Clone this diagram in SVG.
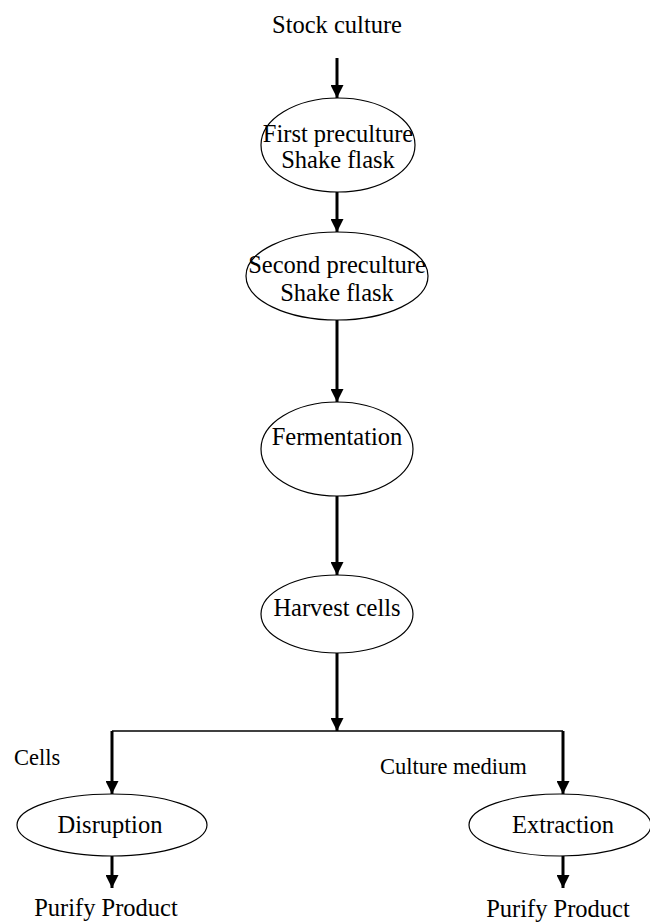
<svg xmlns="http://www.w3.org/2000/svg" width="650" height="922" viewBox="0 0 650 922">
<defs>
<marker id="ah" markerWidth="13" markerHeight="13" refX="13" refY="6.5" orient="auto" markerUnits="userSpaceOnUse">
<path d="M0,0 L13,6.5 L0,13 Z" fill="#000"/>
</marker>
<style>
.n{fill:#fff;stroke:#000;stroke-width:1.2}
.t{font-family:"Liberation Serif","Times New Roman",serif;font-size:24.5px;fill:#000;text-anchor:middle}
.l{font-family:"Liberation Serif","Times New Roman",serif;font-size:22.5px;fill:#000}
.a{stroke:#000;stroke-width:3;fill:none;marker-end:url(#ah)}
.h{stroke:#000;stroke-width:1.4;fill:none}
</style>
</defs>
<rect width="650" height="922" fill="#fff"/>
<g id="connectors">
<line class="a" x1="337" y1="58" x2="337" y2="98"/>
<line class="a" x1="337" y1="192" x2="337" y2="232"/>
<line class="a" x1="337" y1="320" x2="337" y2="402"/>
<line class="a" x1="337" y1="496" x2="337" y2="575"/>
<line class="a" x1="337" y1="653" x2="337" y2="731"/>
<line class="h" x1="112" y1="731" x2="563" y2="731"/>
<line class="a" x1="112" y1="731" x2="112" y2="794"/>
<line class="a" x1="563" y1="731" x2="563" y2="794"/>
<line class="a" x1="112" y1="856" x2="112" y2="888"/>
<line class="a" x1="563" y1="856" x2="563" y2="888"/>
</g>
<g id="stock"><text class="t" x="337" y="33">Stock culture</text></g>
<g id="first">
<ellipse class="n" cx="338" cy="145" rx="77" ry="47"/>
<text class="t" x="338" y="142">First preculture</text>
<text class="t" x="338" y="168">Shake flask</text>
</g>
<g id="second">
<ellipse class="n" cx="337" cy="276" rx="91" ry="44"/>
<text class="t" x="337" y="273">Second preculture</text>
<text class="t" x="337" y="301">Shake flask</text>
</g>
<g id="fermentation">
<ellipse class="n" cx="337" cy="449" rx="76" ry="47"/>
<text class="t" x="337" y="445">Fermentation</text>
</g>
<g id="harvest">
<ellipse class="n" cx="337" cy="614" rx="76" ry="39"/>
<text class="t" x="337" y="616">Harvest cells</text>
</g>
<g id="cells-label"><text class="l" x="14" y="765">Cells</text></g>
<g id="medium-label"><text class="l" x="380" y="774">Culture medium</text></g>
<g id="disruption">
<ellipse class="n" cx="112" cy="825" rx="95" ry="31"/>
<text class="t" x="110" y="833">Disruption</text>
</g>
<g id="extraction">
<ellipse class="n" cx="560" cy="825" rx="91" ry="31"/>
<text class="t" x="563" y="833">Extraction</text>
</g>
<g id="purify-left"><text class="t" x="106" y="916">Purify Product</text></g>
<g id="purify-right"><text class="t" x="558" y="917">Purify Product</text></g>
</svg>
